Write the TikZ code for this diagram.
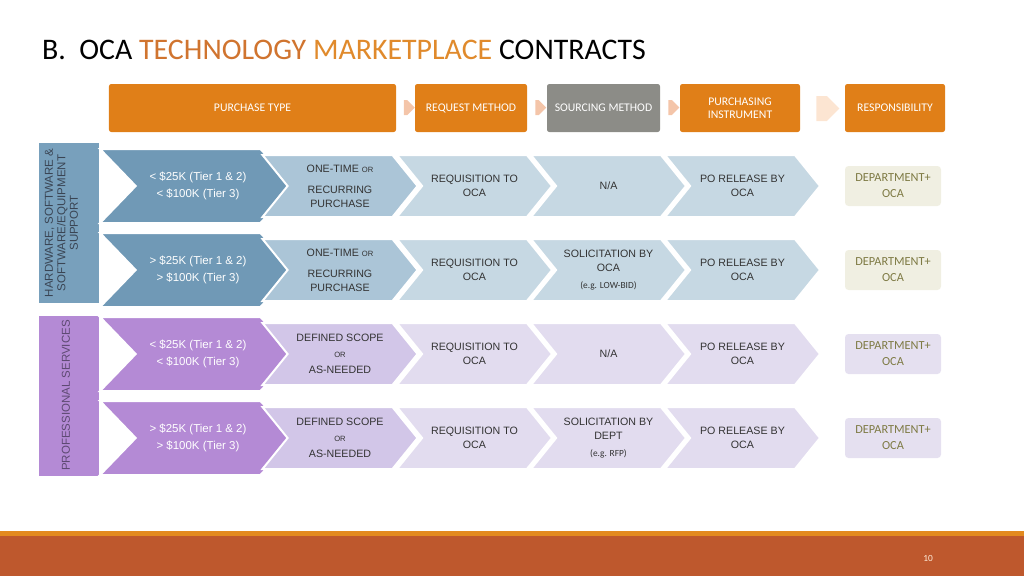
\documentclass[tikz,border=0pt]{standalone}
\usepackage{fontspec}
\setmainfont{Carlito}
\newfontfamily\arialf{Liberation Sans}
\usetikzlibrary{positioning,shapes.symbols}
\definecolor{hdrorange}{HTML}{E07F18}
\definecolor{hdrgray}{HTML}{8C8C87}
\definecolor{arrowpink}{HTML}{F4C5A9}
\definecolor{arrowpale}{HTML}{FCE5D2}
\definecolor{bluebox}{HTML}{78A0BC}
\definecolor{bluedark}{HTML}{7099B6}
\definecolor{bluemid}{HTML}{ABC5D7}
\definecolor{bluelight}{HTML}{C6D8E3}
\definecolor{purpdark}{HTML}{B48AD5}
\definecolor{purpmid}{HTML}{D2C6E8}
\definecolor{purplight}{HTML}{E2DCEF}
\definecolor{respbeige}{HTML}{F0EFE2}
\definecolor{resplilac}{HTML}{E5E0F0}
\definecolor{olive}{HTML}{7E7A44}
\definecolor{sidetext}{HTML}{3A4554}
\definecolor{sidepurp}{HTML}{5E4A73}
\definecolor{titleorange}{HTML}{E08A2C}
\definecolor{titlebrown}{HTML}{D0742F}
\definecolor{footorange}{HTML}{E38A1F}
\definecolor{footrust}{HTML}{BE582D}

\begin{document}
\begin{tikzpicture}[x=0.03cm, y=-0.03cm,
  hdr/.style = {fill=hdrorange, rounded corners=2pt, minimum height=1.44cm, text=white, align=center, inner sep=0pt, font=\fontsize{10}{11}\selectfont},
  harrow/.style = {signal, signal to=east, fill=arrowpink, signal pointer angle=90, minimum width=0.33cm, minimum height=0.45cm, inner sep=0pt},
  side/.style = {minimum width=1.8cm, minimum height=4.8cm, inner sep=0pt},
  sidetxt/.style = {rotate=90, align=center, inner sep=0pt, font=\arialf\fontsize{9.8}{10.7}\selectfont},
  chev/.style = {signal, signal from=west, signal to=east, signal pointer angle=102, draw=white, line width=1.7pt, minimum width=4.65cm, minimum height=1.86cm, inner sep=0pt, align=center, text=black!80, font=\arialf\fontsize{9.1}{12}\selectfont},
  bigchev/.style = {chev, signal pointer angle=92, minimum width=5.88cm, minimum height=2.22cm, text=white, font=\arialf\fontsize{9.8}{12}\selectfont},
  resp/.style = {rounded corners=3pt, minimum width=2.88cm, minimum height=1.2cm, text=olive, align=center, inner sep=0pt, font=\fontsize{10.5}{13.7}\selectfont}]
\useasboundingbox (0,0) rectangle (1024,576);

\node[anchor=base west, font=\fontsize{25.5}{30}\selectfont] (title) at (38,59) {B.\ \ OCA \textcolor{titlebrown}{TECHNOLOGY} \textcolor{titleorange}{MARKETPLACE} CONTRACTS};

\node[hdr, minimum width=8.61cm] (ptype) at (252.5,108) {PURCHASE TYPE};
\node[harrow] (a1) at (405.5,107.5) {};
\node[hdr, minimum width=3.36cm] (rmeth) at (471,108) {REQUEST METHOD};
\node[harrow] (a2) at (537,107.5) {};
\node[hdr, fill=hdrgray, minimum width=3.39cm] (smeth) at (603.5,108) {SOURCING METHOD};
\node[harrow] (a3) at (670,107.5) {};
\node[hdr, minimum width=3.6cm] (pinst) at (740,108) {PURCHASING\\INSTRUMENT};
\node[harrow, fill=arrowpale, minimum width=0.69cm, minimum height=0.75cm] (a4) at (821.5,108.5) {};
\node[hdr, minimum width=3.0cm] (resp) at (895,108) {RESPONSIBILITY};

\node[side, fill=bluebox] (hw) at (69,223) {};
\node[sidetxt, text=sidetext] (hwt) at (61.5,223) {HARDWARE, SOFTWARE \&\\SOFTWARE/EQUIPMENT\\SUPPORT};
\node[side, fill=purpdark] (ps) at (69,395.5) {};
\node[sidetxt, text=sidepurp] (pst) at (66,395.5) {PROFESSIONAL SERVICES};

\node[bigchev, fill=bluedark] (t1) at (198,186) {< \$25K (Tier 1 \& 2)\\[3pt]< \$100K (Tier 3)};
\node[chev, fill=bluemid] (k1) at (340,186) {ONE-TIME {\fontsize{6.5}{8}\selectfont OR}\\[6pt]RECURRING\\PURCHASE};
\node[chev, fill=bluelight] (q1) at (474.5,186) {REQUISITION TO\\OCA};
\node[chev, fill=bluelight] (s1) at (608.5,186) {N/A};
\node[chev, fill=bluelight] (i1) at (742.5,186) {PO RELEASE BY\\OCA};
\node[resp, fill=respbeige] (d1) at (893,186) {DEPARTMENT+\\OCA};

\node[bigchev, fill=bluedark] (t2) at (198,270) {> \$25K (Tier 1 \& 2)\\[3pt]> \$100K (Tier 3)};
\node[chev, fill=bluemid] (k2) at (340,270) {ONE-TIME {\fontsize{6.5}{8}\selectfont OR}\\[6pt]RECURRING\\PURCHASE};
\node[chev, fill=bluelight] (q2) at (474.5,270) {REQUISITION TO\\OCA};
\node[chev, fill=bluelight] (s2) at (608.5,270) {SOLICITATION BY\\OCA\\[2pt]{\rmfamily\fontsize{8}{9}\selectfont (e.g. LOW-BID)}};
\node[chev, fill=bluelight] (i2) at (742.5,270) {PO RELEASE BY\\OCA};
\node[resp, fill=respbeige] (d2) at (893,270) {DEPARTMENT+\\OCA};

\node[bigchev, fill=purpdark] (t3) at (198,354) {< \$25K (Tier 1 \& 2)\\[3pt]< \$100K (Tier 3)};
\node[chev, fill=purpmid] (k3) at (340,354) {DEFINED SCOPE\\[1pt]{\fontsize{6.5}{8}\selectfont OR}\\[2pt]AS-NEEDED};
\node[chev, fill=purplight] (q3) at (474.5,354) {REQUISITION TO\\OCA};
\node[chev, fill=purplight] (s3) at (608.5,354) {N/A};
\node[chev, fill=purplight] (i3) at (742.5,354) {PO RELEASE BY\\OCA};
\node[resp, fill=resplilac] (d3) at (893,354) {DEPARTMENT+\\OCA};

\node[bigchev, fill=purpdark] (t4) at (198,438) {> \$25K (Tier 1 \& 2)\\[3pt]> \$100K (Tier 3)};
\node[chev, fill=purpmid] (k4) at (340,438) {DEFINED SCOPE\\[1pt]{\fontsize{6.5}{8}\selectfont OR}\\[2pt]AS-NEEDED};
\node[chev, fill=purplight] (q4) at (474.5,438) {REQUISITION TO\\OCA};
\node[chev, fill=purplight] (s4) at (608.5,438) {SOLICITATION BY\\DEPT\\[2pt]{\rmfamily\fontsize{8}{9}\selectfont (e.g. RFP)}};
\node[chev, fill=purplight] (i4) at (742.5,438) {PO RELEASE BY\\OCA};
\node[resp, fill=resplilac] (d4) at (893,438) {DEPARTMENT+\\OCA};

\fill[footorange] (0,531) rectangle (1024,536);
\fill[footrust] (0,536) rectangle (1024,576);
\node[text=white!85!orange, font=\fontsize{8}{9}\selectfont] (page) at (928,558) {10};

\end{tikzpicture}
\end{document}
